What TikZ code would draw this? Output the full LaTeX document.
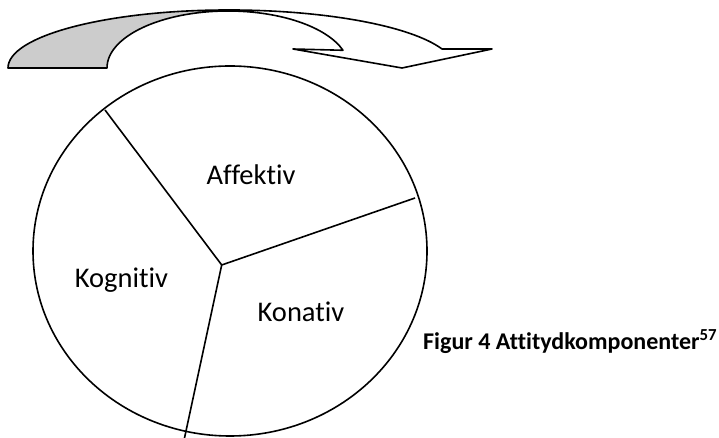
\documentclass[tikz,border=0pt]{standalone}
\usepackage{fontspec}
\usetikzlibrary{shapes.geometric}
\setmainfont{Carlito}[Ligatures={NoCommon}]
\begin{document}
\begin{tikzpicture}[x=1pt,y=1pt,
  outl/.style={draw=black,line width=1.6pt,line join=round},
  lbl/.style={inner sep=0pt,anchor=base,font=\fontsize{28.5}{33}\selectfont},
  captext/.style={inner sep=0pt,anchor=base west,font=\fontsize{24}{28}\selectfont\bfseries}]
\useasboundingbox (0,0) rectangle (719,438);
% curved arrow: back part (grey)
\path[outl,fill=black!20] (8,370) arc[start angle=180,end angle=90,x radius=220,y radius=58]
  -- (228,427) arc[start angle=90,end angle=180,x radius=121,y radius=57] -- cycle;
% front part (white)
\path[outl,fill=white] (228,427) arc[start angle=90,end angle=18.1,x radius=121,y radius=57]
  -- (293,389) -- (402,370) -- (492,389) -- (442,389)
  arc[start angle=19.1,end angle=90,x radius=226.5,y radius=58] -- cycle;
% circle
\node[outl,ellipse,minimum width=394,minimum height=370,inner sep=0pt] (circ) at (230,187) {};
\coordinate (c) at (221.7,173);
\coordinate (tl) at (105,328);
\coordinate (r) at (415,240);
\coordinate (b) at (184.5,0);
\draw[outl] (c) -- (tl);
\draw[outl] (c) -- (r);
\draw[outl] (c) -- (b);
\node[lbl] (aff) at (251,253) {Affektiv};
\node[lbl] (kog) at (121.5,150) {Kognitiv};
\node[lbl] (kon) at (301,116) {Konativ};
\node[captext] (caption) at (423,88) {Figur 4 Attitydkomponenter\textsuperscript{57}};
\end{tikzpicture}
\end{document}
